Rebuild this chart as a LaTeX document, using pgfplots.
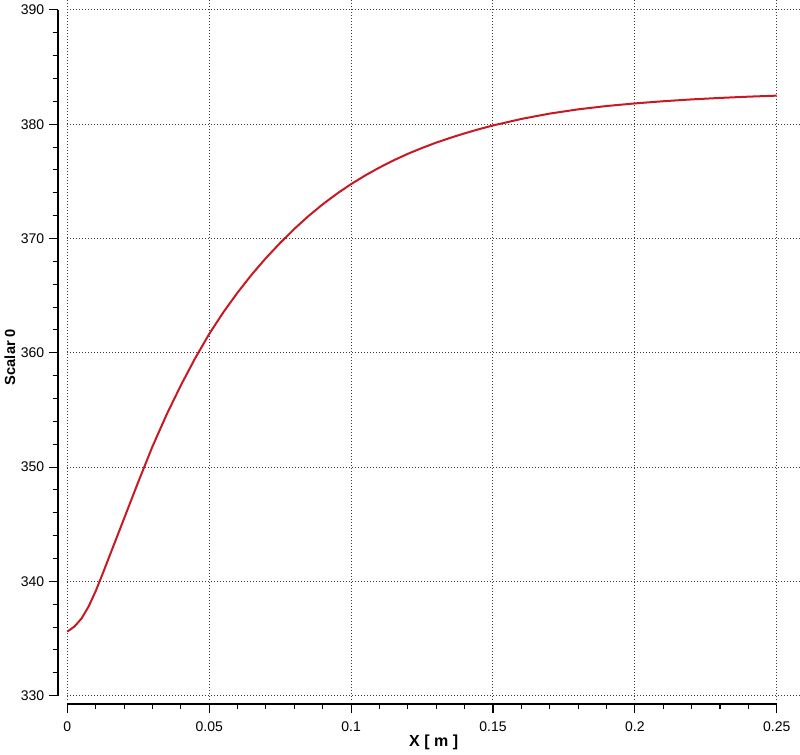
\documentclass[border=0pt]{standalone}
\usepackage{fontspec}
\setmainfont{Liberation Sans}
\usepackage{pgfplots}
\pgfplotsset{compat=1.18}
\definecolor{curve}{RGB}{200,25,35}
\definecolor{gridc}{RGB}{60,60,60}

\begin{document}
\begin{tikzpicture}
\path[use as bounding box] (-50.5pt,-41.25pt) rectangle (549.5pt,525pt);
\begin{axis}[
  at={(0,0)}, anchor=south west,
  scale only axis,
  width=549.5pt, height=525pt,
  xmin=0, xmax=0.2582,
  ymin=329.62, ymax=390.87,
  axis lines=left,
  axis line style={draw=none},
  axis x line shift=3pt,
  axis y line shift=7pt,
  xtick={0,0.05,0.1,0.15,0.2,0.25},
  xticklabels={0,0.05,0.1,0.15,0.2,0.25},
  ytick={330,340,...,390},
  minor x tick num=4,
  minor y tick num=4,
  tick align=outside,
  major tick length=6.75pt,
  minor tick length=4pt,
  tick style={black, line width=0.8pt},
  grid=major,
  major grid style={gridc, line width=0.75pt, dash pattern=on 0.75pt off 1.5pt},
  ticklabel style={font=\fontsize{10.5}{12}\selectfont},
  xticklabel style={yshift=-3pt},
  /pgf/number format/assume math mode=true,
  xlabel={X [ m ]},
  ylabel={Scalar 0},
  label style={font=\fontsize{11}{13}\selectfont\bfseries},
  x label style={at={([yshift=-31.5pt]axis description cs:0.5,0)}, anchor=center,
    font=\fontsize{12}{14}\selectfont\bfseries},
  y label style={at={([xshift=-43pt]axis description cs:0,0.49)}, anchor=center},
  clip=false,
]
% axis lines stop at the outer ticks, as in the reference
\draw[black, line width=1pt] ([xshift=-7pt]axis cs:0,330) -- ([xshift=-7pt]axis cs:0,390);
\draw[black, line width=1pt] ([yshift=-3pt]axis cs:0,329.62) -- ([yshift=-3pt]axis cs:0.25,329.62);

\addplot[curve, line width=1.5pt, line join=round] coordinates {
  (0,335.6)
  (0.0025,336.05)
  (0.005,336.75)
  (0.0075,337.8)
  (0.01,339.15)
  (0.0125,340.7)
  (0.015,342.3)
  (0.02,345.5)
  (0.025,348.7)
  (0.03,351.8)
  (0.035,354.6)
  (0.04,357.15)
  (0.045,359.5)
  (0.05,361.65)
  (0.055,363.55)
  (0.06,365.27)
  (0.065,366.85)
  (0.07,368.29)
  (0.075,369.61)
  (0.08,370.84)
  (0.085,371.97)
  (0.09,372.99)
  (0.095,373.92)
  (0.1,374.76)
  (0.105,375.52)
  (0.11,376.21)
  (0.115,376.84)
  (0.12,377.41)
  (0.125,377.92)
  (0.13,378.39)
  (0.135,378.81)
  (0.14,379.2)
  (0.145,379.56)
  (0.15,379.89)
  (0.16,380.46)
  (0.17,380.93)
  (0.18,381.3)
  (0.19,381.59)
  (0.2,381.82)
  (0.21,382.01)
  (0.22,382.17)
  (0.23,382.3)
  (0.24,382.41)
  (0.25,382.5)
};
\end{axis}
\end{tikzpicture}
\end{document}
